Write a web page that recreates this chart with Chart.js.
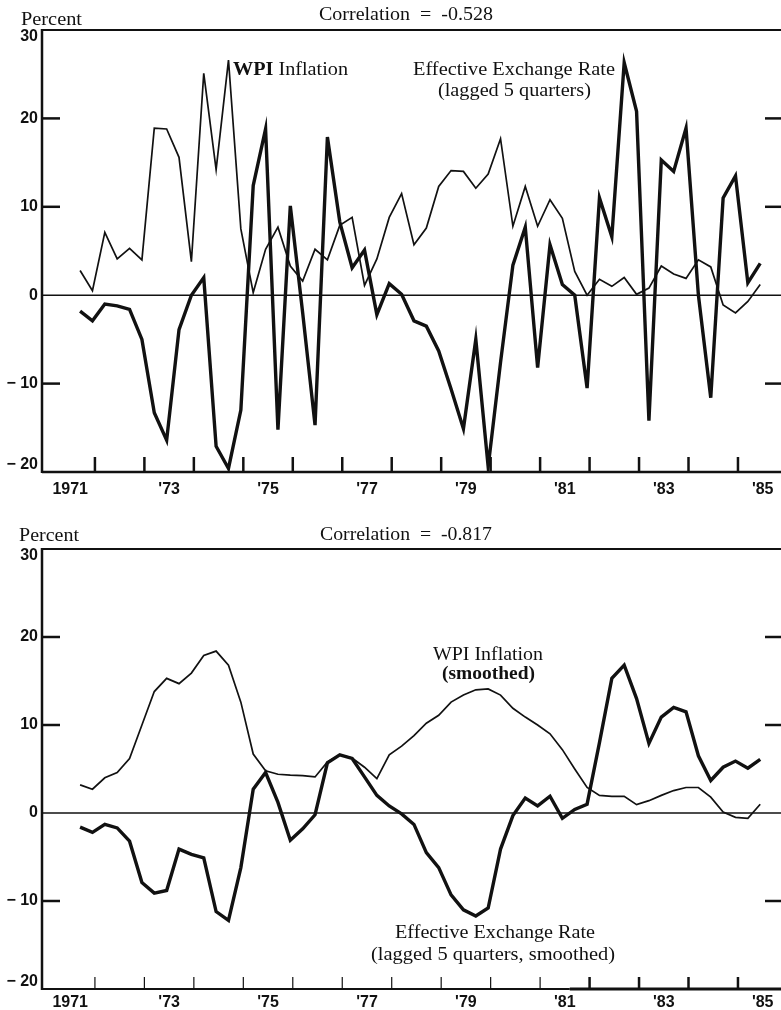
<!DOCTYPE html>
<html>
<head>
<meta charset="utf-8">
<script src="https://cdn.jsdelivr.net/npm/chart.js@4/dist/chart.umd.min.js"></script>
<style>
  html, body { margin: 0; padding: 0; background: #fff; }
  #wrap { position: relative; width: 781px; height: 1010px; overflow: hidden; background: #fff; }
  canvas { position: absolute; left: 0; }
  #c1 { top: 0; }
  #c2 { top: 500px; }
</style>
</head>
<body>
<div id="wrap">
  <canvas id="c1" width="781" height="500"></canvas>
  <canvas id="c2" width="781" height="510"></canvas>
</div>
<script>
// ---------------- DATA ----------------
const quarters = [
  "1971Q3","1971Q4",
  "1972Q1","1972Q2","1972Q3","1972Q4",
  "1973Q1","1973Q2","1973Q3","1973Q4",
  "1974Q1","1974Q2","1974Q3","1974Q4",
  "1975Q1","1975Q2","1975Q3","1975Q4",
  "1976Q1","1976Q2","1976Q3","1976Q4",
  "1977Q1","1977Q2","1977Q3","1977Q4",
  "1978Q1","1978Q2","1978Q3","1978Q4",
  "1979Q1","1979Q2","1979Q3","1979Q4",
  "1980Q1","1980Q2","1980Q3","1980Q4",
  "1981Q1","1981Q2","1981Q3","1981Q4",
  "1982Q1","1982Q2","1982Q3","1982Q4",
  "1983Q1","1983Q2","1983Q3","1983Q4",
  "1984Q1","1984Q2","1984Q3","1984Q4",
  "1985Q1","1985Q2"
];

// Top panel: WPI inflation (thin) and effective exchange rate lagged 5 quarters (thick)
const wpiInflation = [
  2.8, 0.5, 7.1, 4.1, 5.3, 4.0, 18.9, 18.8, 15.6, 3.8,
  25.1, 14.2, 26.6, 7.5, 0.3, 5.2, 7.7, 3.3, 1.6, 5.2,
  4.0, 7.9, 8.8, 1.1, 4.1, 8.8, 11.5, 5.7, 7.6, 12.3,
  14.1, 14.0, 12.1, 13.7, 17.7, 7.8, 12.3, 7.8, 10.8, 8.7,
  2.7, 0.0, 1.8, 1.0, 2.0, 0.1, 0.8, 3.3, 2.4, 1.9,
  4.0, 3.2, -1.1, -2.0, -0.7, 1.2
];
const eerLagged = [
  -1.8, -2.9, -1.0, -1.2, -1.6, -5.0, -13.3, -16.4, -3.9, 0.0,
  2.0, -17.1, -19.6, -13.0, 12.4, 18.8, -15.2, 10.1, -2.0, -14.7,
  17.9, 8.3, 3.1, 5.1, -2.2, 1.3, 0.1, -2.9, -3.5, -6.3,
  -10.6, -15.1, -5.0, -19.4, -7.6, 3.4, 7.7, -8.2, 5.7, 1.2,
  0.0, -10.5, 11.0, 6.6, 26.3, 20.8, -14.2, 15.3, 14.0, 18.9,
  0.0, -11.6, 11.0, 13.5, 1.4, 3.6
];

// Bottom panel: smoothed series
const wpiSmoothed = [
  3.2, 2.7, 4.0, 4.6, 6.2, 10.0, 13.8, 15.3, 14.7, 15.9,
  17.9, 18.4, 16.8, 12.6, 6.7, 4.8, 4.4, 4.3, 4.25, 4.1,
  5.8, 6.6, 6.25, 5.2, 3.9, 6.6, 7.6, 8.8, 10.2, 11.1,
  12.6, 13.4, 14.0, 14.1, 13.4, 11.9, 10.9, 10.0, 9.0, 7.2,
  5.0, 2.9, 2.0, 1.9, 1.9, 0.95, 1.4, 2.0, 2.55, 2.9,
  2.9, 1.8, 0.1, -0.5, -0.6, 1.0
];
const eerSmoothed = [
  -1.6, -2.2, -1.3, -1.7, -3.2, -7.9, -9.1, -8.8, -4.1, -4.7,
  -5.1, -11.2, -12.2, -6.2, 2.7, 4.6, 1.2, -3.1, -1.8, -0.2,
  5.7, 6.6, 6.2, 4.1, 2.0, 0.8, -0.1, -1.3, -4.5, -6.2,
  -9.3, -11.0, -11.7, -10.8, -4.1, -0.3, 1.7, 0.8, 1.9, -0.6,
  0.4, 1.0, 8.0, 15.3, 16.8, 13.0, 7.9, 10.9, 12.0, 11.5,
  6.5, 3.7, 5.2, 5.9, 5.1, 6.1
];

// Axis ticks and labels
const yTickValues = [30, 20, 10, 0, -10, -20];
const yTickLabels = ["30", "20", "10", "0", "\u2212 10", "\u2212 20"];
const yMarkValues = [20, 10, -10];
const xTickYears = [1972, 1973, 1974, 1975, 1976, 1977, 1978, 1979, 1980, 1981, 1982, 1983, 1984, 1985];
const xLabelYears = [1971, 1973, 1975, 1977, 1979, 1981, 1983, 1985];
const xLabelTexts = ["1971", "'73", "'75", "'77", "'79", "'81", "'83", "'85"];

// ---------------- RENDERING ----------------
const INK = '#111111';
const SERIF = '"Liberation Serif", "Times New Roman", Times, serif';
const SANS = '"Liberation Sans", Arial, Helvetica, sans-serif';

// quarter -> plotted decimal year
const xPos = quarters.map(q => parseInt(q.slice(0, 4), 10) + (parseInt(q.slice(5), 10) - 1) * 0.25 + 0.2);
const toPoints = arr => arr.map((v, i) => ({ x: xPos[i], y: v }));

function fitText(ctx, parts, left, baseline, width) {
  let total = 0;
  parts.forEach(p => { ctx.font = p.font; p.w = ctx.measureText(p.t).width; total += p.w; });
  const sx = width / total;
  ctx.save();
  ctx.translate(left, baseline);
  ctx.scale(sx, 1);
  ctx.textAlign = 'left';
  ctx.textBaseline = 'alphabetic';
  ctx.fillStyle = INK;
  let x = 0;
  parts.forEach(p => { ctx.font = p.font; ctx.fillText(p.t, x, 0); x += p.w; });
  ctx.restore();
}

function line(ctx, x1, y1, x2, y2, w) {
  ctx.beginPath();
  ctx.lineWidth = w;
  ctx.moveTo(x1, y1);
  ctx.lineTo(x2, y2);
  ctx.stroke();
}

function makePlugin(cfg) {
  return {
    id: 'panel_' + cfg.name,
    beforeDatasetsDraw(chart) {
      const ctx = chart.ctx, ca = chart.chartArea, ys = chart.scales.y;
      ctx.save();
      ctx.strokeStyle = INK;
      ctx.lineCap = 'butt';
      const y0 = ys.getPixelForValue(0);
      line(ctx, ca.left, y0, ca.right, y0, 1.5);
      ctx.restore();
    },
    afterDatasetsDraw(chart) {
      const ctx = chart.ctx, ca = chart.chartArea, xs = chart.scales.x, ys = chart.scales.y;
      ctx.save();
      ctx.strokeStyle = INK;
      ctx.fillStyle = INK;
      ctx.lineCap = 'butt';
      line(ctx, ca.left, ca.top, ca.right, ca.top, 2);
      line(ctx, ca.left, ca.top - 1, ca.left, ca.bottom + 1, 2.5);
      if (cfg.splitBottom) {
        const xs1 = xs.getPixelForValue(cfg.splitBottom);
        line(ctx, ca.left, ca.bottom, xs1, ca.bottom, 2);
        line(ctx, xs1, ca.bottom, ca.right, ca.bottom, 3);
      } else {
        line(ctx, ca.left, ca.bottom, ca.right, ca.bottom, 2.5);
      }
      yMarkValues.forEach(v => {
        const py = ys.getPixelForValue(v);
        line(ctx, ca.left, py, ca.left + 18, py, 2.5);
        line(ctx, ca.right - 16, py, ca.right, py, 2.5);
      });
      xTickYears.forEach(yr => {
        const px = xs.getPixelForValue(yr);
        const w = (cfg.thinTicksUntil && yr <= cfg.thinTicksUntil) ? 1.2 : 2.5;
        line(ctx, px, ca.bottom - cfg.xTickLen, px, ca.bottom, w);
      });
      ctx.font = 'bold 16px ' + SANS;
      ctx.textAlign = 'right';
      ctx.textBaseline = 'middle';
      yTickValues.forEach((v, i) => {
        let py = ys.getPixelForValue(v);
        py = Math.min(Math.max(py, ca.top + 7), ca.bottom - 7);
        ctx.fillText(yTickLabels[i], 38, py);
      });
      ctx.textAlign = 'center';
      ctx.textBaseline = 'alphabetic';
      xLabelYears.forEach((yr, i) => {
        const px = xs.getPixelForValue(yr + 0.5);
        ctx.fillText(xLabelTexts[i], px, cfg.xLabelBaseline);
      });
      ctx.restore();
      cfg.texts.forEach(t => fitText(ctx, t.parts, t.left, t.baseline, t.width));
    }
  };
}

function makeChart(id, s1, s2, padding, plugin) {
  return new Chart(document.getElementById(id), {
    type: 'line',
    data: {
      datasets: [
        { data: toPoints(s1), borderColor: INK, borderWidth: 1.7, pointRadius: 0, tension: 0, fill: false, borderJoinStyle: 'miter' },
        { data: toPoints(s2), borderColor: INK, borderWidth: 3.4, pointRadius: 0, tension: 0, fill: false, borderJoinStyle: 'miter' }
      ]
    },
    options: {
      responsive: false,
      animation: false,
      events: [],
      layout: { padding: padding },
      plugins: { legend: { display: false }, tooltip: { enabled: false }, title: { display: false } },
      scales: {
        x: { type: 'linear', display: false, min: 1970.93, max: 1985.87 },
        y: { type: 'linear', display: false, min: -20, max: 30 }
      }
    },
    plugins: [plugin]
  });
}

const reg = s => s + 'px ' + SERIF;
const bold = s => 'bold ' + s + 'px ' + SERIF;

makeChart('c1', wpiInflation, eerLagged, { left: 42, right: 0, top: 30, bottom: 28 }, makePlugin({
  name: 'top',
  xTickLen: 15,
  xLabelBaseline: 494,
  texts: [
    { parts: [{ t: 'Percent', font: reg(19) }], left: 21, baseline: 25, width: 61 },
    { parts: [{ t: 'Correlation  =  -0.528', font: reg(19) }], left: 319, baseline: 20, width: 174 },
    { parts: [{ t: 'WPI', font: bold(19) }, { t: ' Inflation', font: reg(19) }], left: 233, baseline: 75, width: 115 },
    { parts: [{ t: 'Effective Exchange Rate', font: reg(19) }], left: 413, baseline: 75, width: 202 },
    { parts: [{ t: '(lagged 5 quarters)', font: reg(19) }], left: 438, baseline: 96, width: 153 }
  ]
}));

makeChart('c2', wpiSmoothed, eerSmoothed, { left: 42, right: 0, top: 49, bottom: 21 }, makePlugin({
  name: 'bottom',
  xTickLen: 12,
  thinTicksUntil: 1981,
  splitBottom: 1981.6,
  xLabelBaseline: 507,
  texts: [
    { parts: [{ t: 'Percent', font: reg(19) }], left: 19, baseline: 41, width: 60 },
    { parts: [{ t: 'Correlation  =  -0.817', font: reg(19) }], left: 320, baseline: 40, width: 172 },
    { parts: [{ t: 'WPI Inflation', font: reg(19) }], left: 433, baseline: 160, width: 110 },
    { parts: [{ t: '(smoothed)', font: bold(19) }], left: 442, baseline: 179, width: 93 },
    { parts: [{ t: 'Effective Exchange Rate', font: reg(19) }], left: 395, baseline: 438, width: 200 },
    { parts: [{ t: '(lagged 5 quarters, smoothed)', font: reg(19) }], left: 371, baseline: 460, width: 244 }
  ]
}));
</script>
</body>
</html>
